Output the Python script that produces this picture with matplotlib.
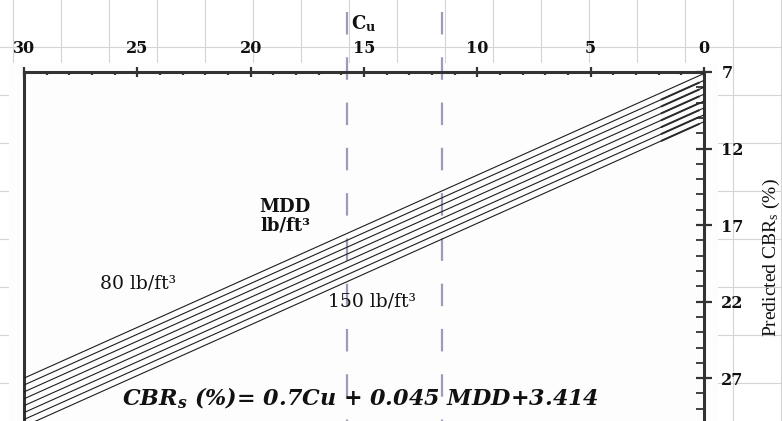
import matplotlib
matplotlib.use('Agg')
import matplotlib.pyplot as plt
import numpy as np
from matplotlib.lines import Line2D
from matplotlib.patches import Rectangle
import matplotlib.transforms as mtransforms

# ---------------- data ----------------
mdd_values = [80, 90, 100, 110, 120, 130, 140, 150]          # lb/ft3
cu_ends = [0, 30]                                             # Cu at line ends
cbr_at_cu0 = [7.1, 7.55, 8.0, 8.45, 8.9, 9.35, 9.8, 10.25]    # CBR at Cu = 0
cbr_at_cu30 = [27.0, 27.45, 27.9, 28.35, 28.8, 29.25, 29.7, 30.15]  # CBR at Cu = 30
cu_ticks = [0, 5, 10, 15, 20, 25, 30]
cbr_ticks = [7, 12, 17, 22, 27]
cu_marks = [15.75, 11.55]                                     # dashed verticals

plt.rcParams['lines.scale_dashes'] = False
plt.rcParams['mathtext.fontset'] = 'custom'
plt.rcParams['mathtext.rm'] = 'Liberation Serif'
plt.rcParams['mathtext.it'] = 'Liberation Serif:italic'
plt.rcParams['mathtext.bf'] = 'DejaVu Serif:bold'
plt.rcParams['mathtext.bfit'] = 'DejaVu Serif:bold:italic'

W, H = 782, 421
fig = plt.figure(figsize=(W / 100, H / 100), dpi=100, facecolor='white')


def fx(px):
    return px / W


def fy(py):
    return 1 - py / H


# background sheet grid
for x in range(13, W, 48):
    fig.add_artist(Line2D([fx(x), fx(x)], [0, 1], color='#d4d4d4', lw=0.8, zorder=-3))
for y in range(47, H, 48):
    fig.add_artist(Line2D([0, 1], [fy(y), fy(y)], color='#d4d4d4', lw=0.8, zorder=-3))
fig.add_artist(Rectangle((fx(9), 0), fx(718) - fx(9), fy(63), transform=fig.transFigure,
                         facecolor='#fdfdfd', edgecolor='none', zorder=-2))

ax = fig.add_axes([fx(24), 0, fx(704) - fx(24), (H - 72) / H])
ax.set_facecolor('none')
ax.set_xlim(30, 0)
ax.set_ylim(29.8, 7)

# design lines
for i, (a, b) in enumerate(zip(cbr_at_cu0, cbr_at_cu30)):
    ax.plot(cu_ends, [a, b], color='#1e1e1e', lw=0.8, zorder=3)
    if i > 0:
        seg = [0.2, 1.9]
        ax.plot(seg, np.interp(seg, cu_ends, [a, b]), color='#2a2a2a', lw=1.4,
                zorder=3, solid_capstyle='butt')

# dashed vertical markers, extending above the axes
trans = mtransforms.blended_transform_factory(ax.transData, ax.transAxes)
for c in cu_marks:
    ax.plot([c, c], [(H - 12) / (H - 72), 0], transform=trans, clip_on=False,
            color='#9c9cba', lw=1.6, dashes=(16.2, 16.4), zorder=2)

# spines
for s in ['top', 'left', 'right']:
    ax.spines[s].set_color('#333333')
    ax.spines[s].set_linewidth(2.2)
ax.spines['bottom'].set_visible(False)

ax.xaxis.tick_top()
ax.yaxis.tick_right()
ax.set_xticks(cu_ticks)
ax.set_xticks(range(0, 31), minor=True)
ax.set_yticks(cbr_ticks)
ax.set_yticks(range(7, 30), minor=True)
ax.tick_params(axis='x', which='major', direction='inout', length=7, width=1.6,
               pad=7.5, color='#333333')
ax.tick_params(axis='x', which='minor', direction='in', length=2.5, width=1.6,
               color='#333333')
ax.tick_params(axis='y', which='major', direction='inout', length=11, width=1.6,
               pad=7, color='#333333')
ax.tick_params(axis='y', which='minor', direction='in', length=6, width=1.3,
               color='#333333')
tick_font = dict(family='DejaVu Serif', weight='bold', size=11.5, color='#111111')
ax.set_xticklabels([str(t) for t in cu_ticks], **tick_font)
ax.set_yticklabels([str(t) for t in cbr_ticks], **tick_font)

# texts
fig.text(fx(351), fy(29), r'C$_{\mathbf{u}}$', ha='left', va='baseline',
         family='DejaVu Serif', weight='bold', size=13, color='#111111')
fig.text(fx(285), fy(207), 'MDD', ha='center', va='center',
         family='DejaVu Serif', weight='bold', size=13, color='#111111')
fig.text(fx(285), fy(226), 'lb/ft³', ha='center', va='center',
         family='DejaVu Serif', weight='bold', size=13, color='#111111')
fig.text(fx(100), fy(283), '80 lb/ft³', ha='left', va='center',
         family='DejaVu Serif', size=13.5, color='#111111')
fig.text(fx(328), fy(302), '150 lb/ft³', ha='left', va='center',
         family='DejaVu Serif', size=13.5, color='#111111')
fig.text(fx(122), fy(405), r'CBR$_{\mathbfit{s}}$ (%)= 0.7Cu + 0.045 MDD+3.414',
         ha='left', va='baseline', family='DejaVu Serif', weight='bold',
         style='italic', size=16, color='#111111')
fig.text(fx(771), fy(258), r'Predicted CBR$_\mathrm{s}$ (%)', rotation=90,
         ha='center', va='center', family='Liberation Serif', size=14,
         color='#111111')

fig.savefig('out.png', dpi=100, facecolor='white')
